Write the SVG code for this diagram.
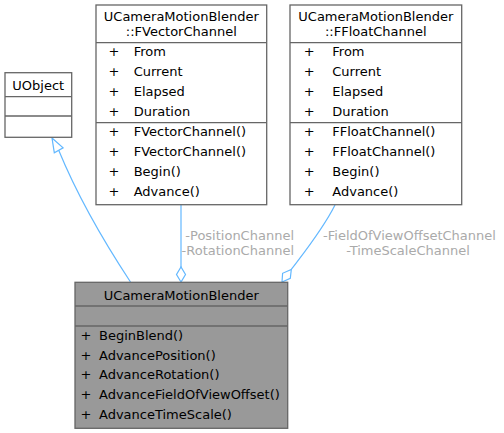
<svg xmlns="http://www.w3.org/2000/svg" width="504" height="433" viewBox="0 0 504 433">
<style>
text{font-family:"DejaVu Sans",sans-serif;font-size:13px;fill:#000}
.box{fill:#fff;stroke:#666;stroke-width:1.3}
.main{fill:#999;stroke:#666;stroke-width:1.3}
.sep{stroke:#666;stroke-width:1.3;fill:none}
.c{text-anchor:middle}
.edge{fill:none;stroke:#63b8ff;stroke-width:1.2}
.lbl{fill:#aaaaaa}
</style>
<rect width="504" height="433" fill="#fff"/>
<g id="connectors">
<path class="edge" d="M130.5,282 C112,254 80,202 58.7,150.3"/>
<polygon points="52,138 63.1,147.9 54.3,152.7" fill="#fff" stroke="#63b8ff" stroke-width="1.2"/>
<path class="edge" d="M181,205 L181,267"/>
<polygon points="181,282 176.5,274.5 181,267 185.5,274.5" fill="#fff" stroke="#63b8ff" stroke-width="1.2"/>
<path class="edge" d="M335,205 C323,229 306,250 291.3,269.5"/>
<polygon points="282,282 282.6,273.3 291.3,269.5 290.3,278.3" fill="#fff" stroke="#63b8ff" stroke-width="1.2"/>
<text class="lbl" x="294" y="239.5" text-anchor="end">-PositionChannel</text>
<text class="lbl" x="294" y="254.5" text-anchor="end">-RotationChannel</text>
<text class="lbl c" x="409.5" y="239.5">-FieldOfViewOffsetChannel</text>
<text class="lbl c" x="408" y="254.5">-TimeScaleChannel</text>
</g>
<g id="UObject">
<rect class="box" x="5" y="72.7" width="66.7" height="64.6"/>
<path class="sep" d="M5,96.7 H71.7 M5,116 H71.7"/>
<text class="c" x="38.3" y="89.7">UObject</text>
</g>
<g id="FVectorChannel">
<rect class="box" x="96" y="5" width="170.7" height="199.7"/>
<path class="sep" d="M96,42.7 H266.7 M96,122.7 H266.7"/>
<text class="c" x="181.3" y="21.4">UCameraMotionBlender</text>
<text class="c" x="181.3" y="36.4">::FVectorChannel</text>
<g>
<text class="c" x="114" y="56.4">+</text><text x="133.7" y="56.4">From</text>
<text class="c" x="114" y="76.4">+</text><text x="133.7" y="76.4">Current</text>
<text class="c" x="114" y="95.9">+</text><text x="133.7" y="95.9">Elapsed</text>
<text class="c" x="114" y="115.7">+</text><text x="133.7" y="115.7">Duration</text>
<text class="c" x="114" y="136.4">+</text><text x="133.7" y="136.4">FVectorChannel()</text>
<text class="c" x="114" y="156.4">+</text><text x="133.7" y="156.4">FVectorChannel()</text>
<text class="c" x="114" y="176.4">+</text><text x="133.7" y="176.4">Begin()</text>
<text class="c" x="114" y="196.4">+</text><text x="133.7" y="196.4">Advance()</text>
</g>
</g>
<g id="FFloatChannel">
<rect class="box" x="290" y="5" width="171.7" height="199.7"/>
<path class="sep" d="M290,42.7 H461.7 M290,122.7 H461.7"/>
<text class="c" x="375.8" y="21.4">UCameraMotionBlender</text>
<text class="c" x="375.8" y="36.4">::FFloatChannel</text>
<g>
<text class="c" x="309.3" y="56.4">+</text><text x="332.3" y="56.4">From</text>
<text class="c" x="309.3" y="76.4">+</text><text x="332.3" y="76.4">Current</text>
<text class="c" x="309.3" y="95.9">+</text><text x="332.3" y="95.9">Elapsed</text>
<text class="c" x="309.3" y="115.7">+</text><text x="332.3" y="115.7">Duration</text>
<text class="c" x="309.3" y="136.4">+</text><text x="332.3" y="136.4">FFloatChannel()</text>
<text class="c" x="309.3" y="156.4">+</text><text x="332.3" y="156.4">FFloatChannel()</text>
<text class="c" x="309.3" y="176.4">+</text><text x="332.3" y="176.4">Begin()</text>
<text class="c" x="309.3" y="196.4">+</text><text x="332.3" y="196.4">Advance()</text>
</g>
</g>
<g id="UCameraMotionBlender">
<rect class="main" x="75" y="282.3" width="212.7" height="146"/>
<path class="sep" d="M75,306 H287.7 M75,326 H287.7"/>
<text class="c" x="181.3" y="299.7">UCameraMotionBlender</text>
<text class="c" x="86" y="339.7">+</text><text x="99" y="339.7">BeginBlend()</text>
<text class="c" x="86" y="359.7">+</text><text x="99" y="359.7">AdvancePosition()</text>
<text class="c" x="86" y="379.4">+</text><text x="99" y="379.4">AdvanceRotation()</text>
<text class="c" x="86" y="399">+</text><text x="99" y="399">AdvanceFieldOfViewOffset()</text>
<text class="c" x="86" y="418.7">+</text><text x="99" y="418.7">AdvanceTimeScale()</text>
</g>
</svg>
